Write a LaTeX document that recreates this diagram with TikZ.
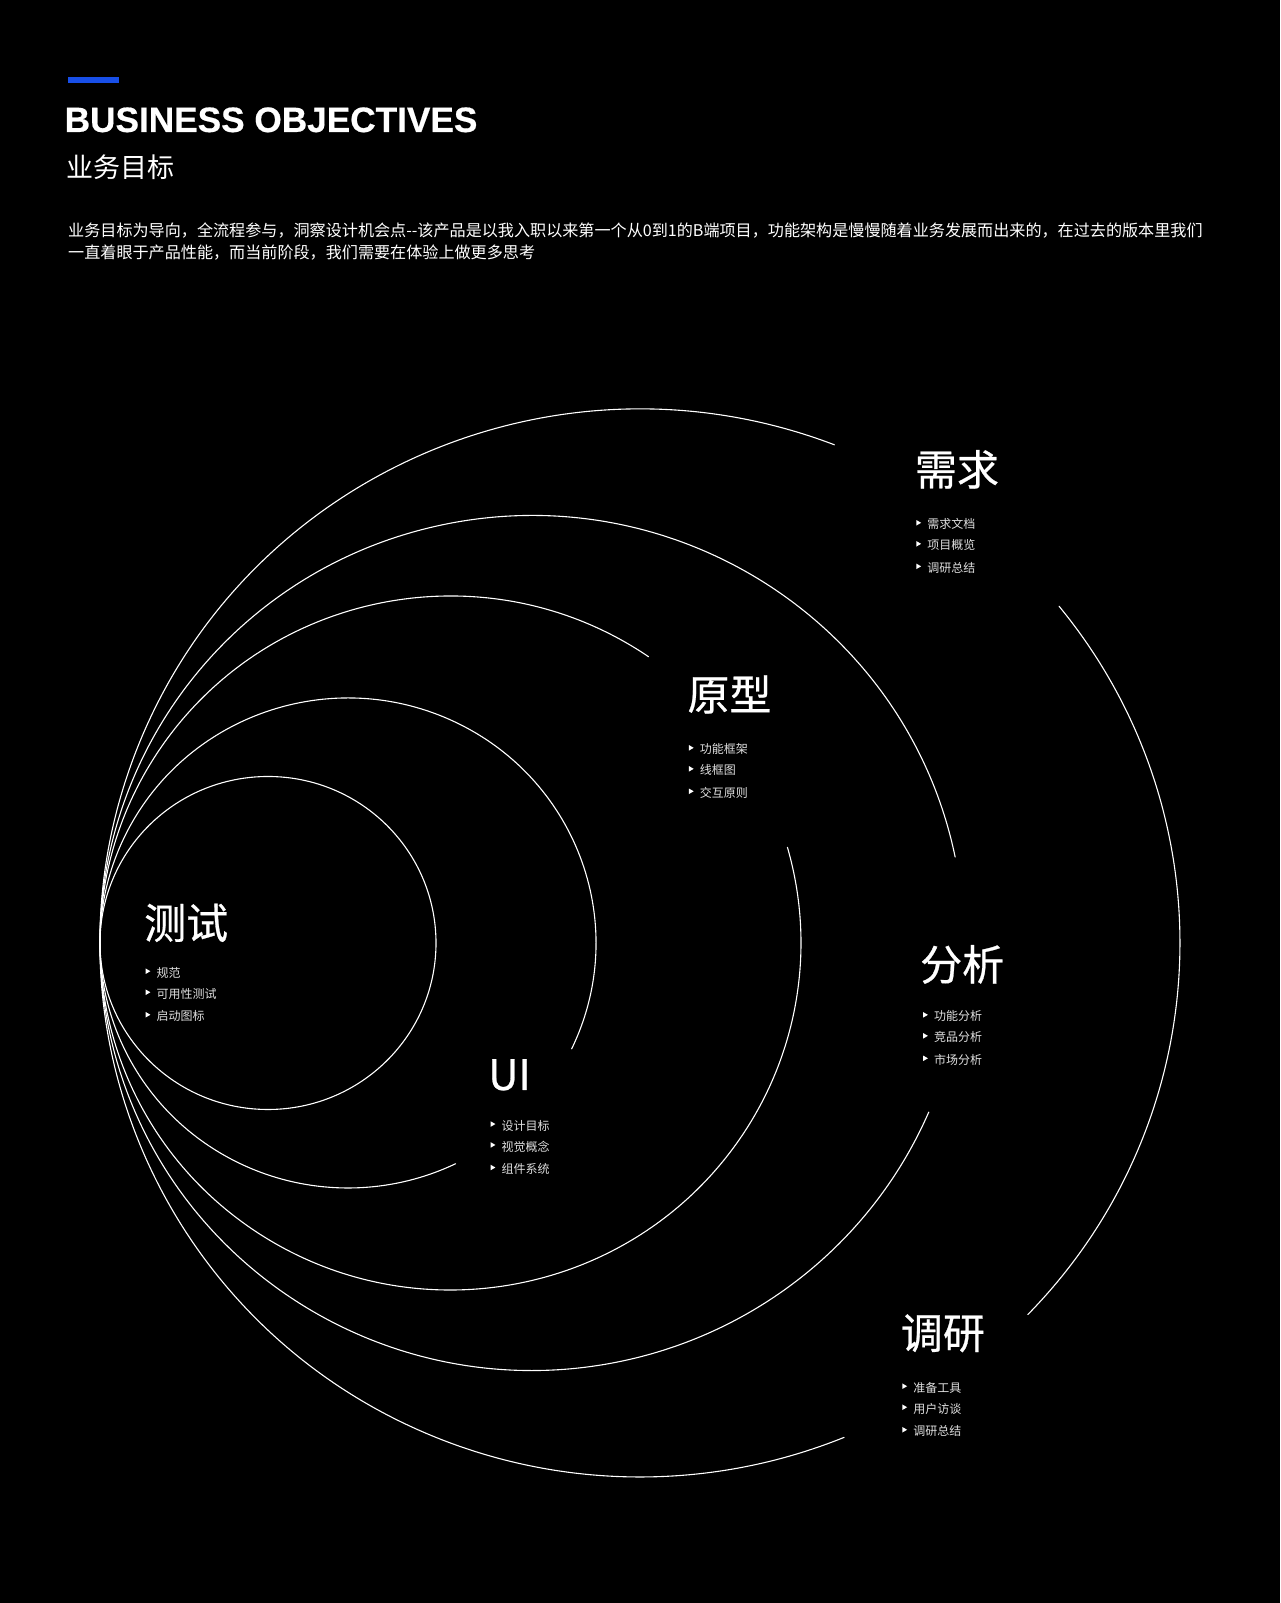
\documentclass[tikz,border=0pt]{standalone}
\usepackage{fontspec}
\newfontfamily\cjk{Noto Sans CJK SC}
\newfontfamily\cjktitle[FakeBold=0.6]{Noto Sans CJK SC}
\newfontfamily\headfont[FakeBold=0.5]{Liberation Sans}
\definecolor{bizblue}{RGB}{24,79,232}
\definecolor{itemgray}{gray}{0.88}
\usetikzlibrary{shapes.geometric}
\begin{document}
\begin{tikzpicture}[x=1pt,y=1pt,line cap=round,
		ring/.style={white,line width=1.1pt},
		stagetitle/.style={anchor=base west,inner sep=0pt,text=white,font=\cjktitle\fontsize{42}{42}\selectfont},
		bullet/.style={regular polygon,regular polygon sides=3,shape border rotate=-90,fill=white,minimum size=6.4pt,inner sep=0pt,xshift=-5.6pt,yshift=1.5pt},
		item/.style={anchor=base west,inner sep=0pt,text=itemgray,font=\cjk\fontsize{12}{12}\selectfont,label distance=8pt,label={[bullet]left:{}}},
		plain/.style={anchor=base west,inner sep=0pt,text=white}]
				\useasboundingbox (0,0) rectangle (1280,1603);
				\fill[black] (0,0) rectangle (1280,1603);
				\fill[bizblue] (68,1520) rectangle (119,1526);
				\node[plain,font=\headfont\bfseries\fontsize{35.2}{35.2}\selectfont] (head) at (64.5,1471) {BUSINESS OBJECTIVES};
				\node[plain,font=\cjk\fontsize{27}{27}\selectfont] (headcn) at (66,1425.5) {业务目标};
				\node[plain,font=\cjk\fontsize{16.1}{16.1}\selectfont] (desc1) at (68,1366) {业务目标为导向，全流程参与，洞察设计机会点-{}-该产品是以我入职以来第一个从0到1的B端项目，功能架构是慢慢随着业务发展而出来的，在过去的版本里我们};
				\node[plain,font=\cjk\fontsize{16.1}{16.1}\selectfont] (desc2) at ([yshift=-22pt]desc1.base west) {一直着眼于产品性能，而当前阶段，我们需要在体验上做更多思考};
				\coordinate (o1) at (640,660);
				\coordinate (o2) at (532,660);
				\coordinate (o3) at (450.5,660);
				\coordinate (o4) at (348,660);
				\coordinate (o5) at (268,660);
				\draw[ring] (o1) ++(68.9:540 and 534) arc[start angle=68.9,end angle=292.2,x radius=540,y radius=534];
				\draw[ring] (o1) ++(-44.1:540 and 534) arc[start angle=-44.1,end angle=39.1,x radius=540,y radius=534];
				\draw[ring] (o2) ++(11.6:432 and 427.5) arc[start angle=11.6,end angle=336.7,x radius=432,y radius=427.5];
				\draw[ring] (o3) ++(55.6:350.5 and 347) arc[start angle=55.6,end angle=376,x radius=350.5,y radius=347];
				\draw[ring] (o4) ++(-25.6:248 and 245) arc[start angle=-25.6,end angle=295.7,x radius=248,y radius=245];
				\draw[ring] (o5) ellipse[x radius=168,y radius=166.5];
				\node[stagetitle] (xq) at (914.7,1117.7) {需求};
				\node[item] (xq1) at ([shift={(12.4,-43.6)}]xq.base west) {需求文档};
				\node[item] (xq2) at ([shift={(12.4,-64.6)}]xq.base west) {项目概览};
				\node[item] (xq3) at ([shift={(12.4,-87.1)}]xq.base west) {调研总结};
				\node[stagetitle] (yx) at (687.3,892.7) {原型};
				\node[item] (yx1) at ([shift={(12.4,-43.6)}]yx.base west) {功能框架};
				\node[item] (yx2) at ([shift={(12.4,-64.6)}]yx.base west) {线框图};
				\node[item] (yx3) at ([shift={(12.4,-87.1)}]yx.base west) {交互原则};
				\node[stagetitle] (cs) at (144,664.3) {测试};
				\node[item] (cs1) at ([shift={(12.4,-38.6)}]cs.base west) {规范};
				\node[item] (cs2) at ([shift={(12.4,-59.6)}]cs.base west) {可用性测试};
				\node[item] (cs3) at ([shift={(12.4,-82.1)}]cs.base west) {启动图标};
				\node[stagetitle] (ui) at (488,513) {UI};
				\node[item] (ui1) at ([shift={(13.4,-40.1)}]ui.base west) {设计目标};
				\node[item] (ui2) at ([shift={(13.4,-61.1)}]ui.base west) {视觉概念};
				\node[item] (ui3) at ([shift={(13.4,-83.6)}]ui.base west) {组件系统};
				\node[stagetitle] (fx) at (920,622.7) {分析};
				\node[item] (fx1) at ([shift={(13.9,-40.6)}]fx.base west) {功能分析};
				\node[item] (fx2) at ([shift={(13.9,-61.6)}]fx.base west) {竞品分析};
				\node[item] (fx3) at ([shift={(13.9,-84.1)}]fx.base west) {市场分析};
				\node[stagetitle] (dy) at (900.7,254.3) {调研};
				\node[item] (dy1) at ([shift={(12.4,-43.6)}]dy.base west) {准备工具};
				\node[item] (dy2) at ([shift={(12.4,-64.6)}]dy.base west) {用户访谈};
				\node[item] (dy3) at ([shift={(12.4,-87.1)}]dy.base west) {调研总结};
			\end{tikzpicture}
\end{document}
